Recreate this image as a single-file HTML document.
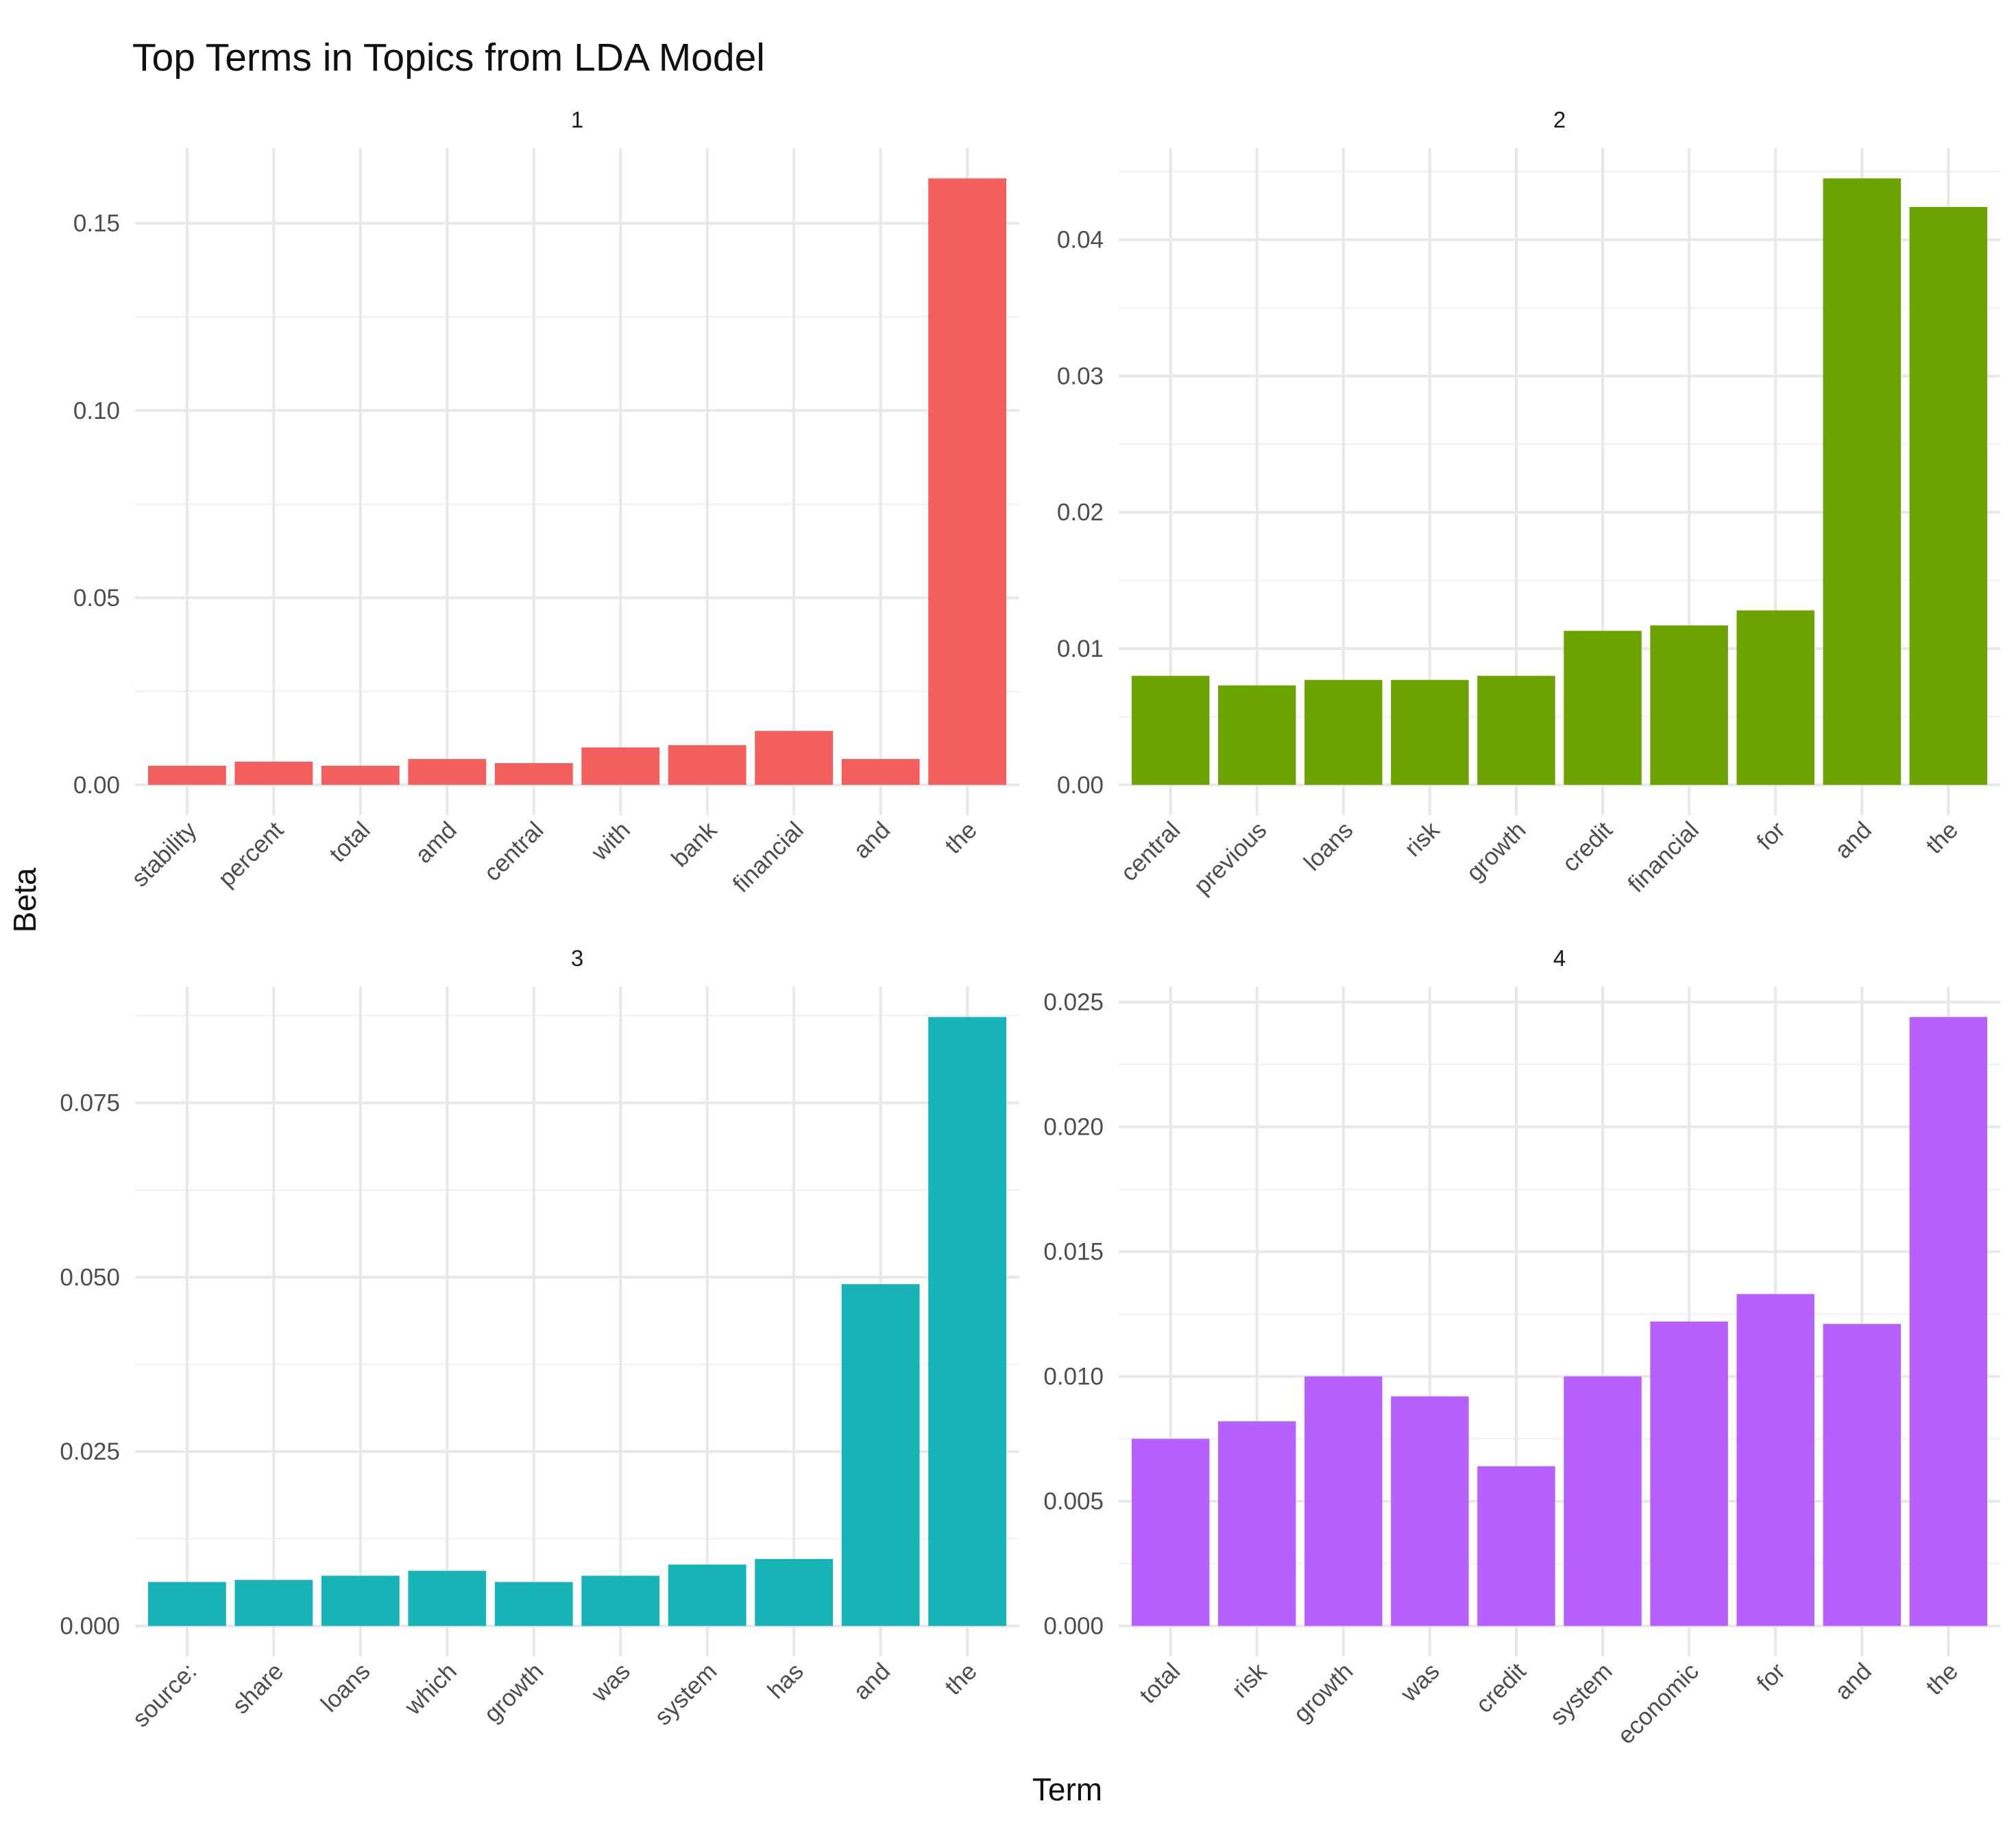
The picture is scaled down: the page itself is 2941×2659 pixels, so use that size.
<!DOCTYPE html>
<html><head><meta charset="utf-8"><style>
html,body{margin:0;padding:0;background:#fff;}
svg{display:block;font-family:"Liberation Sans",sans-serif;}
</style></head><body>
<svg id="chart" width="2941" height="2659" viewBox="0 0 2941 2659" xmlns="http://www.w3.org/2000/svg">
<text x="193" y="103" font-size="57" fill="#111">Top Terms in Topics from LDA Model</text>
<text transform="translate(52,1313) rotate(-90)" text-anchor="middle" font-size="46" fill="#111">Beta</text>
<text x="1557" y="2626" text-anchor="middle" font-size="46" fill="#111">Term</text>
</svg>
<script>
const topic1Terms = ["stability","percent","total","amd","central","with","bank","financial","and","the"];
const topic1Beta = [0.0051,0.0062,0.0051,0.0069,0.0058,0.0100,0.0106,0.0144,0.0069,0.162];
const topic1Ticks = [0,0.05,0.10,0.15];
const topic1TickLabels = ["0.00","0.05","0.10","0.15"];
const topic2Terms = ["central","previous","loans","risk","growth","credit","financial","for","and","the"];
const topic2Beta = [0.0080,0.0073,0.0077,0.0077,0.0080,0.0113,0.0117,0.0128,0.0445,0.0424];
const topic2Ticks = [0,0.01,0.02,0.03,0.04];
const topic2TickLabels = ["0.00","0.01","0.02","0.03","0.04"];
const topic3Terms = ["source:","share","loans","which","growth","was","system","has","and","the"];
const topic3Beta = [0.0063,0.0066,0.0072,0.0079,0.0063,0.0072,0.0088,0.0096,0.0490,0.0873];
const topic3Ticks = [0,0.025,0.05,0.075];
const topic3TickLabels = ["0.000","0.025","0.050","0.075"];
const topic4Terms = ["total","risk","growth","was","credit","system","economic","for","and","the"];
const topic4Beta = [0.0075,0.0082,0.0100,0.0092,0.0064,0.0100,0.0122,0.0133,0.0121,0.0244];
const topic4Ticks = [0,0.005,0.010,0.015,0.020,0.025];
const topic4TickLabels = ["0.000","0.005","0.010","0.015","0.020","0.025"];

const NS="http://www.w3.org/2000/svg";
const svg=document.getElementById('chart');
function mk(tag,attrs,parent){const e=document.createElementNS(NS,tag);for(const k in attrs)e.setAttribute(k,attrs[k]);(parent||svg).appendChild(e);return e;}

const panels=[
 {id:"1",terms:topic1Terms,vals:topic1Beta,ticks:topic1Ticks,labels:topic1TickLabels,x0:197,x1:1487,y0:216,y1:1189,color:"#F25F5C"},
 {id:"2",terms:topic2Terms,vals:topic2Beta,ticks:topic2Ticks,labels:topic2TickLabels,x0:1632,x1:2918,y0:216,y1:1189,color:"#6BA300"},
 {id:"3",terms:topic3Terms,vals:topic3Beta,ticks:topic3Ticks,labels:topic3TickLabels,x0:197,x1:1487,y0:1439,y1:2416,color:"#18B3B7"},
 {id:"4",terms:topic4Terms,vals:topic4Beta,ticks:topic4Ticks,labels:topic4TickLabels,x0:1632,x1:2918,y0:1439,y1:2416,color:"#B760FF"}
];

panels.forEach(p=>{
  const g=mk('g',{});
  
  
  const max=Math.max(...p.vals);
  const lo=-0.05*max, hi=1.05*max;
  const y=v=>p.y1-(v-lo)/(hi-lo)*(p.y1-p.y0);
  const n=p.terms.length;
  const step=(p.x1-p.x0)/(n-1+1.2);
  const x=i=>p.x0+step*(0.6+i);
  for(let i=0;i<p.ticks.length;i++){
    const d=p.ticks[1]-p.ticks[0];
    const mv=p.ticks[i]+d/2;
    if(mv<hi){const l=mk('line',{x1:p.x0,x2:p.x1,y1:y(mv),y2:y(mv),stroke:"#f2f2f2","stroke-width":2.5},g);
    
    }
  }
  p.ticks.forEach((t,i)=>{
    const l=mk('line',{x1:p.x0,x2:p.x1,y1:y(t),y2:y(t),stroke:"#e8e8e8","stroke-width":4},g);
    
    
    const tx=mk('text',{x:p.x0-22,y:y(t)+12,"text-anchor":"end","font-size":35,fill:"#4d4d4d"},g);
    
    
    tx.textContent=p.labels[i];
  });
  p.terms.forEach((t,i)=>{
    const l=mk('line',{x1:x(i),x2:x(i),y1:p.y0,y2:p.y1,stroke:"#e8e8e8","stroke-width":4},g);
    
    
  });
  p.vals.forEach((v,i)=>{
    const w=step*0.9;
    const r=mk('rect',{x:x(i)-w/2,y:y(v),width:w,height:y(0)-y(v),fill:p.color},g);
    
    
    const tx=mk('text',{transform:`translate(${x(i)+16},${p.y1+24}) rotate(-45)`,"text-anchor":"end","font-size":35,fill:"#4d4d4d"},g);
    
    
    tx.textContent=p.terms[i];
  });
  const s=mk('text',{x:(p.x0+p.x1)/2,y:p.y0-30,"text-anchor":"middle","font-size":33,fill:"#1a1a1a"},g);
  
  
  s.textContent=p.id;
});
</script>
</body></html>
